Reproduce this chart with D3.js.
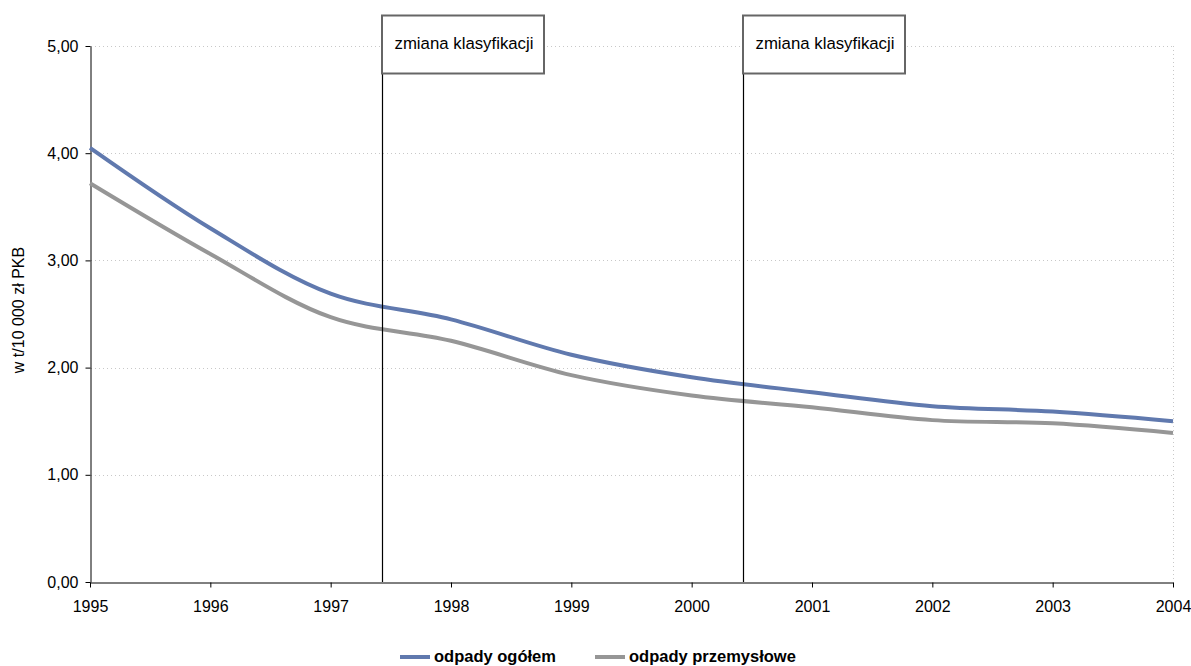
<!DOCTYPE html>
<html><head><meta charset="utf-8">
<script src="https://cdn.jsdelivr.net/npm/d3@7/dist/d3.min.js"></script>
<style>body{margin:0;background:#fff;}svg{display:block;font-family:"Liberation Sans",Arial,sans-serif;}</style>
</head><body>
<svg id="chart" width="1191" height="666"></svg>
<script>
const years = [1995,1996,1997,1998,1999,2000,2001,2002,2003,2004];
const ogolem = [4.05,3.30,2.69,2.45,2.12,1.91,1.77,1.64,1.59,1.50];
const przemyslowe = [3.72,3.06,2.47,2.25,1.93,1.74,1.63,1.51,1.48,1.39];
const yTicks = [0,1,2,3,4,5];
const annotationYears = [1997.43,2000.43];
const annotationLabels = ["zmiana klasyfikacji","zmiana klasyfikacji"];
const seriesNames = ["odpady ogółem","odpady przemysłowe"];
const seriesColors = ["#6079ae","#969696"];

const FONT = "Liberation Sans, Arial, sans-serif";
const svg = d3.select("#chart");
const x = d3.scaleLinear().domain([1995,2004]).range([90,1173]);
const y = d3.scaleLinear().domain([0,5]).range([582,46]);
const fmt = v => d3.format(".2f")(v).replace(".",",");

// gridlines
svg.append("g").selectAll("line").data(yTicks.filter(d=>d>0)).join("line")
  .attr("x1",91).attr("x2",1173).attr("y1",d=>Math.round(y(d))+0.5).attr("y2",d=>Math.round(y(d))+0.5)
  .attr("stroke","#c8c8c8").attr("stroke-width",1).attr("stroke-dasharray","1,3");
svg.append("line").attr("x1",1173.5).attr("x2",1173.5).attr("y1",46).attr("y2",582)
  .attr("stroke","#c8c8c8").attr("stroke-dasharray","1,3");

// axes
const yAxis = svg.append("g").attr("transform","translate(90.5,0)")
  .call(d3.axisLeft(y).tickValues(yTicks).tickFormat(fmt).tickSize(5).tickSizeOuter(0));
const xAxis = svg.append("g").attr("transform","translate(0,582.5)")
  .call(d3.axisBottom(x).tickValues(years).tickFormat(d3.format("d")).tickSize(5).tickSizeOuter(0));
[yAxis,xAxis].forEach(a=>{
  a.attr("font-family",FONT).attr("font-size",16);
  a.selectAll("text").attr("fill","#000");
  a.select(".domain").attr("stroke","#000");
  a.selectAll(".tick line").attr("stroke","#000");
});
yAxis.selectAll("text").attr("x",-12);
xAxis.selectAll("text").attr("y",18);

svg.append("text").attr("transform","translate(24,310) rotate(-90)")
  .attr("text-anchor","middle").attr("font-size",16).text("w t/10 000 zł PKB");

// lines
const line = d3.line().x((d,i)=>x(years[i])).y(d=>y(d)).curve(d3.curveCatmullRom.alpha(0.5));
[ogolem,przemyslowe].forEach((s,i)=>{
  svg.append("path").datum(s).attr("d",line).attr("fill","none")
    .attr("stroke",seriesColors[i]).attr("stroke-width",4).attr("stroke-linejoin","round");
});

// annotations
annotationYears.forEach((yr,i)=>{
  const ax = Math.round(x(yr))+0.5;
  svg.append("line").attr("x1",ax).attr("x2",ax).attr("y1",73).attr("y2",582)
    .attr("stroke","#000").attr("stroke-width",1.2);
  svg.append("rect").attr("x",ax-0.5).attr("y",15.5).attr("width",162).attr("height",58)
    .attr("fill","#fff").attr("stroke","#666").attr("stroke-width",2);
  svg.append("text").attr("x",ax+12).attr("y",49).attr("font-size",16.8).text(annotationLabels[i]);
});

// legend
const legX = [400,595];
seriesNames.forEach((n,i)=>{
  svg.append("line").attr("x1",legX[i]).attr("x2",legX[i]+30).attr("y1",657).attr("y2",657)
    .attr("stroke",seriesColors[i]).attr("stroke-width",4);
  svg.append("text").attr("x",legX[i]+34).attr("y",662).attr("font-size",16.5)
    .attr("font-weight","bold").text(n);
});
</script>
</body></html>
